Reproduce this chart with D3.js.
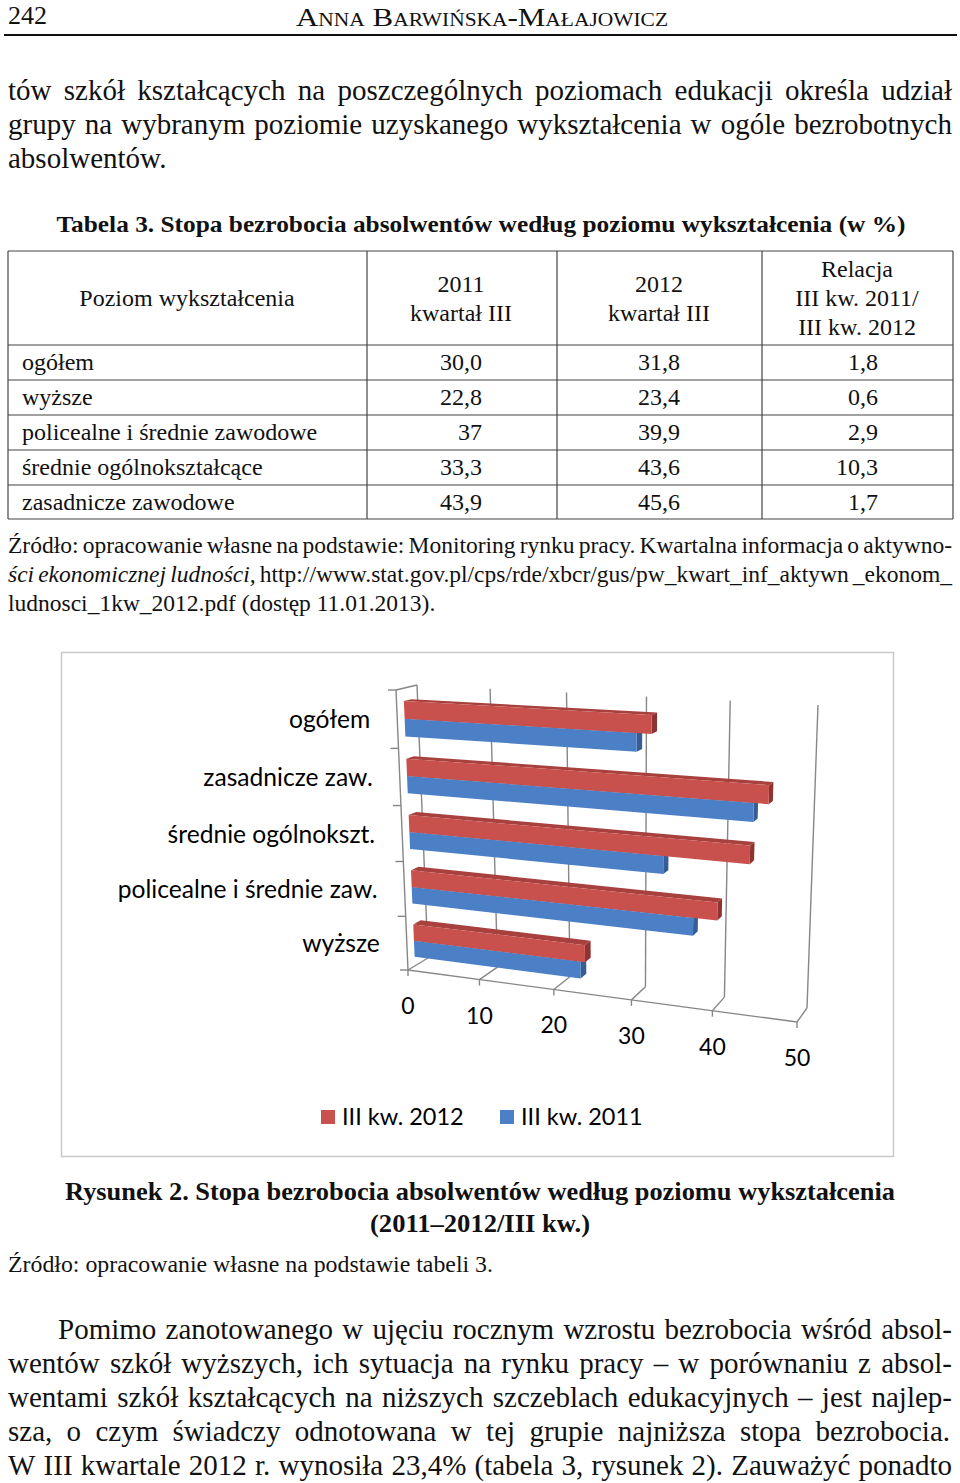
<!DOCTYPE html>
<html><head><meta charset="utf-8">
<script src="https://cdnjs.cloudflare.com/ajax/libs/d3/7.8.5/d3.min.js"></script>
<style>html,body{margin:0;padding:0;background:#fff;} svg{display:block;}</style>
</head><body>
<svg id="page" width="960" height="1483"></svg>
<script>
// ---------------- DATA ----------------
const categories = ["ogółem", "zasadnicze zaw.", "średnie ogólnokszt.", "policealne i średnie zaw.", "wyższe"];
const seriesNames = ["III kw. 2012", "III kw. 2011"];
const values2012 = [31.8, 45.6, 43.6, 39.9, 23.4];
const values2011 = [30.0, 43.9, 33.3, 37.0, 22.8];
const xTicks = [0, 10, 20, 30, 40, 50];

const tableHeadCols = [["Poziom wykształcenia"], ["2011", "kwartał III"], ["2012", "kwartał III"], ["Relacja", "III kw. 2011/", "III kw. 2012"]];
const tableLevels = ["ogółem", "wyższe", "policealne i średnie zawodowe", "średnie ogólnokształcące", "zasadnicze zawodowe"];
const table2011 = ["30,0", "22,8", "37", "33,3", "43,9"];
const table2012 = ["31,8", "23,4", "39,9", "43,6", "45,6"];
const tableRelation = ["1,8", "0,6", "2,9", "10,3", "1,7"];

// ---------------- SETUP ----------------
const svg = d3.select("#page");
const SERIF = "'Liberation Serif','Times New Roman',serif";
const SANS = "Lato,'Open Sans',sans-serif";
const INK = "#111";
svg.append("rect").attr("width", 960).attr("height", 1483).attr("fill", "#fff");

function words(str, italic) { return str.split(" ").filter(s => s.length).map(t => ({t, it: !!italic})); }
function justifyLine(g, ws, x0, x1, y, size, weight) {
  const els = ws.map(w => g.append("text").attr("y", y).attr("font-family", SERIF)
    .attr("font-size", size).attr("fill", INK)
    .attr("font-style", w.it ? "italic" : null).attr("font-weight", weight || null).text(w.t));
  const widths = els.map(e => e.node().getComputedTextLength());
  const gap = ws.length > 1 ? (x1 - x0 - d3.sum(widths)) / (ws.length - 1) : 0;
  let x = x0;
  els.forEach((e, i) => { e.attr("x", x); x += widths[i] + gap; });
}
function txt(g, x, y, s, o = {}) {
  const t = g.append("text").attr("x", x).attr("y", y).text(s)
    .attr("font-family", o.family || SERIF).attr("font-size", o.size || 24)
    .attr("fill", o.fill || INK).attr("text-anchor", o.anchor || "start");
  if (o.weight) t.attr("font-weight", o.weight);
  if (o.style) t.attr("font-style", o.style);
  if (o.variant) t.attr("font-variant", o.variant);
  if (o.w) t.attr("textLength", o.w).attr("lengthAdjust", "spacingAndGlyphs");
  return t;
}

// ---------------- PAGE HEADER ----------------
const head = svg.append("g");
txt(head, 8, 24, "242", {size: 25, w: 39});
txt(head, 482, 26, "Anna Barwińska-Małajowicz", {size: 26, anchor: "middle", variant: "small-caps", w: 372});
head.append("line").attr("x1", 4).attr("x2", 957).attr("y1", 35).attr("y2", 35).attr("stroke", "#111").attr("stroke-width", 2.2);

// ---------------- PARAGRAPH 1 ----------------
const p1 = svg.append("g");
justifyLine(p1, words("tów szkół kształcących na poszczególnych poziomach edukacji określa udział"), 8, 952, 100, 29);
justifyLine(p1, words("grupy na wybranym poziomie uzyskanego wykształcenia w ogóle bezrobotnych"), 8, 952, 134, 29);
txt(p1, 8, 168, "absolwentów.", {size: 29});

// ---------------- TABLE ----------------
const tb = svg.append("g");
txt(tb, 481, 232, "Tabela 3. Stopa bezrobocia absolwentów według poziomu wykształcenia (w %)", {size: 24, weight: "bold", anchor: "middle", w: 849});
const colX = [8, 367, 557, 762, 953];
const rowY = [251, 345, 380, 415, 450, 485, 519];
tb.selectAll("line.h").data(rowY).join("line").attr("x1", colX[0]).attr("x2", colX[4])
  .attr("y1", d => d).attr("y2", d => d).attr("stroke", "#444").attr("stroke-width", 1.2);
tb.selectAll("line.v").data(colX).join("line").attr("y1", rowY[0]).attr("y2", rowY[6])
  .attr("x1", d => d).attr("x2", d => d).attr("stroke", "#444").attr("stroke-width", 1.2);
const headCenters = [187, 461, 659, 857];
tableHeadCols.forEach((lines, ci) => {
  const mid = (rowY[0] + rowY[1]) / 2 + 8;
  const lh = 29;
  lines.forEach((l, li) => {
    txt(tb, headCenters[ci], mid + (li - (lines.length - 1) / 2) * lh, l, {size: 24, anchor: "middle"});
  });
});
const rightCols = [482, 680, 878];
tableLevels.forEach((lv, ri) => {
  const y = (rowY[ri + 1] + rowY[ri + 2]) / 2 + 7.5;
  txt(tb, 22, y, lv, {size: 24});
  txt(tb, rightCols[0], y, table2011[ri], {size: 24, anchor: "end"});
  txt(tb, rightCols[1], y, table2012[ri], {size: 24, anchor: "end"});
  txt(tb, rightCols[2], y, tableRelation[ri], {size: 24, anchor: "end"});
});

// ---------------- SOURCE ----------------
const src = svg.append("g");
justifyLine(src, words("Źródło: opracowanie własne na podstawie: Monitoring rynku pracy. Kwartalna informacja o aktywno-"), 8, 952, 553, 23.5);
justifyLine(src, words("ści ekonomicznej ludności,", true).concat(words("http://www.stat.gov.pl/cps/rde/xbcr/gus/pw_kwart_inf_aktywn _ekonom_")), 8, 952, 582, 23.5);
txt(src, 8, 611, "ludnosci_1kw_2012.pdf (dostęp 11.01.2013).", {size: 23.5});

// ---------------- CHART ----------------
const ch = svg.append("g");
ch.append("rect").attr("x", 61.5).attr("y", 652.5).attr("width", 832).attr("height", 504)
  .attr("fill", "#fff").attr("stroke", "#c9c9c9").attr("stroke-width", 1.5);

function solveHomography(srcPts, dstPts) {
  const A = [], b = [];
  for (let i = 0; i < 4; i++) {
    const [u, v] = srcPts[i], [x, y] = dstPts[i];
    A.push([u, v, 1, 0, 0, 0, -u * x, -v * x]); b.push(x);
    A.push([0, 0, 0, u, v, 1, -u * y, -v * y]); b.push(y);
  }
  const n = 8;
  for (let c = 0; c < n; c++) {
    let p = c;
    for (let r = c + 1; r < n; r++) if (Math.abs(A[r][c]) > Math.abs(A[p][c])) p = r;
    [A[c], A[p]] = [A[p], A[c]]; [b[c], b[p]] = [b[p], b[c]];
    for (let r = c + 1; r < n; r++) {
      const f = A[r][c] / A[c][c];
      for (let k = c; k < n; k++) A[r][k] -= f * A[c][k];
      b[r] -= f * b[c];
    }
  }
  const h = new Array(n);
  for (let r = n - 1; r >= 0; r--) {
    let s = b[r];
    for (let k = r + 1; k < n; k++) s -= A[r][k] * h[k];
    h[r] = s / A[r][r];
  }
  return (u, v) => { const w = h[6] * u + h[7] * v + 1; return [(h[0] * u + h[1] * v + h[2]) / w, (h[3] * u + h[4] * v + h[5]) / w]; };
}
// unit square (value fraction, height) -> screen, for front and back planes of the 3D box
const unitSq = [[0, 0], [1, 0], [1, 1], [0, 1]];
const frontPlane = solveHomography(unitSq, [[408, 970], [797, 1022], [807, 712], [396, 690]]);
const backPlane = solveHomography(unitSq, [[428, 958], [807, 1008], [818, 705], [417, 685]]);

const x = d3.scaleLinear().domain([0, 50]).range([0, 1]);
const band = d3.scaleBand().domain(categories).range([0, 1]);           // 0 = top of plot
const sub = d3.scaleBand().domain(seriesNames).range([0.22, 0.83]);    // fraction of a category step
const depthFront = 0.35, depthBack = 0.72;

function P(v, hgt, d) {
  const a = frontPlane(x(v), hgt), c = backPlane(x(v), hgt);
  return [a[0] + (c[0] - a[0]) * d, a[1] + (c[1] - a[1]) * d];
}
const line = d3.line();
const GRID = "#878787";

// back wall gridlines
ch.selectAll("path.grid").data(xTicks).join("path").attr("class", "grid")
  .attr("d", v => line([P(v, 0, 1), P(v, 1, 1)])).attr("fill", "none").attr("stroke", GRID).attr("stroke-width", 1.4);
// floor: front edge, depth lines, tick marks
ch.append("path").attr("d", line([P(0, 0, 0), P(50, 0, 0)])).attr("fill", "none").attr("stroke", GRID).attr("stroke-width", 1.4);
ch.selectAll("path.floor").data(xTicks).join("path").attr("class", "floor")
  .attr("d", v => line([P(v, 0, 0), P(v, 0, 1)])).attr("fill", "none").attr("stroke", GRID).attr("stroke-width", 1.4);
ch.selectAll("path.xtick").data(xTicks).join("path").attr("class", "xtick")
  .attr("d", v => { const p = P(v, 0, 0); return line([p, [p[0], p[1] + 6]]); })
  .attr("fill", "none").attr("stroke", GRID).attr("stroke-width", 1.4);
// left wall
ch.append("path").attr("d", line([P(0, 0, 0), P(0, 1, 0)])).attr("fill", "none").attr("stroke", GRID).attr("stroke-width", 1.4);
ch.append("path").attr("d", line([P(0, 1, 0), P(0, 1, 1)])).attr("fill", "none").attr("stroke", GRID).attr("stroke-width", 1.4);
const catBounds = d3.range(categories.length + 1).map(i => 1 - i * band.step());
ch.selectAll("path.ytick").data(catBounds).join("path").attr("class", "ytick")
  .attr("d", hh => { const p = P(0, hh, 0); return line([[p[0] - 8, p[1]], p]); })
  .attr("fill", "none").attr("stroke", GRID).attr("stroke-width", 1.4);

// bars
const colors = {
  "III kw. 2012": {front: "#C8504D", top: "#A8403D", end: "#8E3331"},
  "III kw. 2011": {front: "#4B7FC6", top: "#3F6CA8", end: "#365E94"}
};
const barData = [];
categories.forEach((c, i) => {
  [["III kw. 2011", values2011[i]], ["III kw. 2012", values2012[i]]].forEach(([s, v]) => {
    const t0 = band(c) + sub(s) * band.step();
    const t1 = t0 + sub.bandwidth() * band.step();
    barData.push({c, s, v, hTop: 1 - t0, hBot: 1 - t1});
  });
});
const barG = ch.selectAll("g.bar").data(barData).join("g").attr("class", "bar");
barG.append("path").attr("fill", d => colors[d.s].top)
  .attr("d", d => line([P(0, d.hTop, depthFront), P(d.v, d.hTop, depthFront), P(d.v, d.hTop, depthBack), P(0, d.hTop, depthBack)]) + "Z");
barG.append("path").attr("fill", d => colors[d.s].end)
  .attr("d", d => line([P(d.v, d.hTop, depthFront), P(d.v, d.hTop, depthBack), P(d.v, d.hBot, depthBack), P(d.v, d.hBot, depthFront)]) + "Z");
barG.append("path").attr("fill", d => colors[d.s].front)
  .attr("d", d => line([P(0, d.hTop, depthFront), P(d.v, d.hTop, depthFront), P(d.v, d.hBot, depthFront), P(0, d.hBot, depthFront)]) + "Z");

// category labels
categories.forEach(c => {
  const hc = 1 - (band(c) + band.step() / 2);
  const p = P(0, hc, 0);
  txt(ch, p[0] - 27, p[1] + 9, c, {family: SANS, size: 24.6, anchor: "end", fill: "#000"});
});
// value labels
xTicks.forEach(v => {
  const p = P(v, 0, 0);
  txt(ch, p[0], p[1] + 44, String(v), {family: SANS, size: 23, anchor: "middle", fill: "#000"});
});
// legend
const legendX = [321, 500];
seriesNames.forEach((s, i) => {
  ch.append("rect").attr("x", legendX[i]).attr("y", 1110).attr("width", 14).attr("height", 14).attr("fill", colors[s].front);
  txt(ch, legendX[i] + 21, 1125, s, {family: SANS, size: 23.5, fill: "#000"});
});

// ---------------- CAPTION ----------------
const cap = svg.append("g");
txt(cap, 480, 1200, "Rysunek 2. Stopa bezrobocia absolwentów według poziomu wykształcenia", {size: 25, weight: "bold", anchor: "middle", w: 830});
txt(cap, 480, 1232, "(2011–2012/III kw.)", {size: 25, weight: "bold", anchor: "middle", w: 220});
txt(cap, 8, 1272, "Źródło: opracowanie własne na podstawie tabeli 3.", {size: 24, w: 485});

// ---------------- PARAGRAPH 2 ----------------
const p2 = svg.append("g");
justifyLine(p2, words("Pomimo zanotowanego w ujęciu rocznym wzrostu bezrobocia wśród absol-"), 58, 952, 1339, 29);
justifyLine(p2, words("wentów szkół wyższych, ich sytuacja na rynku pracy – w porównaniu z absol-"), 8, 952, 1373, 29);
justifyLine(p2, words("wentami szkół kształcących na niższych szczeblach edukacyjnych – jest najlep-"), 8, 952, 1407, 29);
justifyLine(p2, words("sza, o czym świadczy odnotowana w tej grupie najniższa stopa bezrobocia."), 8, 950, 1441, 29);
justifyLine(p2, words("W III kwartale 2012 r. wynosiła 23,4% (tabela 3, rysunek 2). Zauważyć ponadto"), 8, 952, 1475, 29);
</script>
</body></html>
